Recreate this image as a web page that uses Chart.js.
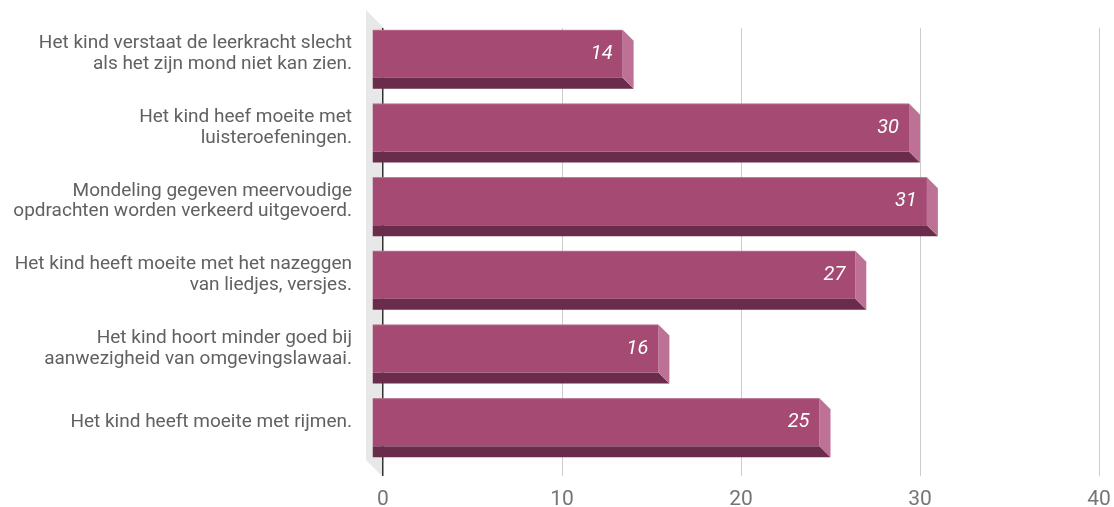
<!DOCTYPE html>
<html>
<head>
<meta charset="utf-8">
<script src="https://cdn.jsdelivr.net/npm/chart.js@4.4.1/dist/chart.umd.min.js"></script>
<style>
  html, body { margin: 0; padding: 0; background: #fff; }
  #wrap { width: 1114px; height: 507px; }
</style>
</head>
<body>
<div id="wrap"><canvas id="barChart" width="1114" height="507"></canvas></div>
<script>
// Statements (multi-line labels) and how many children show each
const statements = [
  ['Het kind verstaat de leerkracht slecht', 'als het zijn mond niet kan zien.'],
  ['Het kind heef moeite met', 'luisteroefeningen.'],
  ['Mondeling gegeven meervoudige', 'opdrachten worden verkeerd uitgevoerd.'],
  ['Het kind heeft moeite met het nazeggen', 'van liedjes, versjes.'],
  ['Het kind hoort minder goed bij', 'aanwezigheid van omgevingslawaai.'],
  ['Het kind heeft moeite met rijmen.']
];
const counts = [14, 30, 31, 27, 16, 25];
const xTicks = [0, 10, 20, 30, 40];

const DEPTH = 11;      // offset of the front face (up/left)
const WALL = 17;       // depth of the grey side wall
const FRONT = '#a54a73';
const SIDE = '#bc7195';
const BOTTOM = '#6a2c4b';

// grey left wall behind the axis
const wallPlugin = {
  id: 'wall',
  beforeDraw(chart) {
    const { ctx, chartArea: a } = chart;
    ctx.save();
    ctx.fillStyle = '#e8e8e8';
    ctx.beginPath();
    ctx.moveTo(a.left - WALL, a.top - WALL - 1);
    ctx.lineTo(a.left, a.top - 1);
    ctx.lineTo(a.left, a.bottom + 7);
    ctx.lineTo(a.left - WALL, a.bottom + 7 - WALL);
    ctx.closePath();
    ctx.fill();
    ctx.restore();
  }
};

// extruded bars + value labels, built from the bar elements
const boxPlugin = {
  id: 'box3d',
  afterDatasetsDraw(chart) {
    const { ctx } = chart;
    const meta = chart.getDatasetMeta(0);
    const values = chart.data.datasets[0].data;
    ctx.save();
    meta.data.forEach((bar, i) => {
      const p = bar.getProps(['x', 'y', 'base', 'height'], true);
      const fl = p.base - DEPTH;
      const fr = p.x - DEPTH;
      const ft = p.y - p.height / 2 - DEPTH;
      const fb = p.y + p.height / 2 - DEPTH;

      // bottom face
      ctx.fillStyle = BOTTOM;
      ctx.beginPath();
      ctx.moveTo(fl, fb);
      ctx.lineTo(fr, fb);
      ctx.lineTo(fr + DEPTH, fb + DEPTH);
      ctx.lineTo(fl, fb + DEPTH);
      ctx.closePath();
      ctx.fill();

      // right side face
      ctx.fillStyle = SIDE;
      ctx.beginPath();
      ctx.moveTo(fr, ft);
      ctx.lineTo(fr + DEPTH, ft + DEPTH);
      ctx.lineTo(fr + DEPTH, fb + DEPTH);
      ctx.lineTo(fr, fb);
      ctx.closePath();
      ctx.fill();

      // front face
      ctx.fillStyle = FRONT;
      ctx.fillRect(fl, ft, fr - fl, fb - ft);
      ctx.fillStyle = 'rgba(255,255,255,0.18)';
      ctx.fillRect(fl, ft, fr - fl, 1);

      // value label
      ctx.fillStyle = '#ffffff';
      ctx.font = 'italic 20px Roboto';
      ctx.textAlign = 'right';
      ctx.textBaseline = 'middle';
      ctx.fillText(String(values[i]), fr - 10, (ft + fb) / 2);
    });
    ctx.restore();
  }
};

document.addEventListener('DOMContentLoaded', function () {
  const ctx = document.getElementById('barChart').getContext('2d');
  new Chart(ctx, {
    type: 'bar',
    data: {
      labels: statements,
      datasets: [{
        data: counts,
        backgroundColor: 'rgba(0,0,0,0)',
        borderWidth: 0,
        barThickness: 48
      }]
    },
    options: {
      indexAxis: 'y',
      responsive: false,
      animation: false,
      layout: { padding: { top: 28, right: 15, left: 0, bottom: 0 } },
      plugins: {
        legend: { display: false },
        tooltip: { enabled: false },
        title: { display: false }
      },
      scales: {
        x: {
          min: 0,
          max: 40,
          afterBuildTicks: (scale) => { scale.ticks = xTicks.map(v => ({ value: v })); },
          afterFit: (scale) => {
            scale.height = 37;
            scale.paddingLeft = 0;
            scale.paddingRight = 0;
          },
          border: { display: false },
          grid: {
            color: (c) => (c.tick && c.tick.value === 0 ? '#333333' : '#cccccc'),
            lineWidth: (c) => (c.tick && c.tick.value === 0 ? 1.5 : 1),
            tickLength: 6
          },
          ticks: {
            padding: 11,
            color: '#757575',
            font: { family: 'Roboto', size: 21 }
          }
        },
        y: {
          afterFit: (scale) => {
            scale.width = 383;
            scale.paddingTop = 0;
            scale.paddingBottom = 0;
          },
          border: { display: false },
          grid: { display: false, drawTicks: false },
          ticks: {
            padding: 31,
            labelOffset: -DEPTH,
            color: '#616161',
            font: { family: 'Roboto', size: 19, lineHeight: 1.08 }
          }
        }
      }
    },
    plugins: [wallPlugin, boxPlugin]
  });
});
</script>
</body>
</html>
